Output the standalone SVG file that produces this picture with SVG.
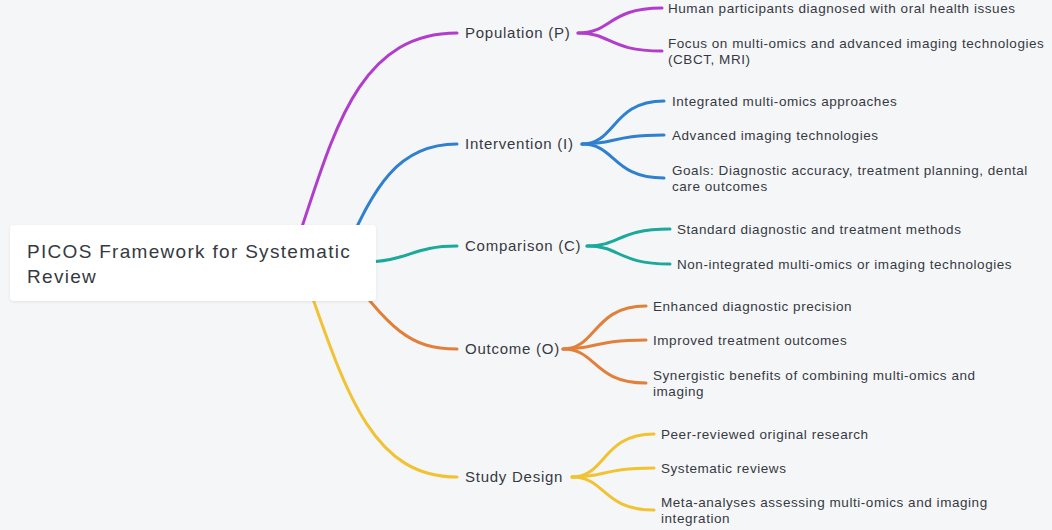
<svg xmlns="http://www.w3.org/2000/svg" width="1052" height="530" viewBox="0 0 1052 530">
<defs>
<style>
.bg{fill:#f5f6f8}
.c{fill:none;stroke-width:3;stroke-linecap:round}
.p{stroke:#b23ccb}.i{stroke:#2f80cf}.k{stroke:#1ba99b}.o{stroke:#e0803a}.s{stroke:#f1c232}
text{font-family:"Liberation Sans",Arial,sans-serif;fill:#353a42}
.root{font-size:19px;letter-spacing:1.3px}
.br{font-size:15px;letter-spacing:0.75px}
.lf{font-size:13.5px;letter-spacing:0.55px}
</style>
<filter id="sh" x="-5%" y="-20%" width="110%" height="140%"><feDropShadow dx="0" dy="1" stdDeviation="1.5" flood-color="#000" flood-opacity="0.08"/></filter>
</defs>
<rect class="bg" x="0" y="0" width="1052" height="530"/>
<g id="connectors">
<path class="c p" d="M290 262 C330 150 350 33 457 33"/>
<path class="c i" d="M340 262 C370 200 390 144 457 144"/>
<path class="c k" d="M360 262 C410 262 410 246 457 246"/>
<path class="c o" d="M340 262 C390 330 410 349 457 349"/>
<path class="c s" d="M300 262 C345 390 370 477 457 477"/>
<path class="c p" d="M578 33 C612 33 608 8 662 8"/>
<path class="c p" d="M578 33 C612 33 608 51 662 51"/>
<path class="c i" d="M582 144 C616 144 612 101 664 101"/>
<path class="c i" d="M582 144 C616 144 612 135 664 135"/>
<path class="c i" d="M582 144 C616 144 612 178 664 178"/>
<path class="c k" d="M587 246 C621 246 617 229 670 229"/>
<path class="c k" d="M587 246 C621 246 617 264 670 264"/>
<path class="c o" d="M563 349 C597 349 593 306 646 306"/>
<path class="c o" d="M563 349 C597 349 593 340 646 340"/>
<path class="c o" d="M563 349 C597 349 593 383 646 383"/>
<path class="c s" d="M572 477 C606 477 602 434 654 434"/>
<path class="c s" d="M572 477 C606 477 602 468 654 468"/>
<path class="c s" d="M572 477 C606 477 602 510 654 510"/>
</g>
<g id="root">
<rect x="10" y="225" width="366" height="76" rx="4" fill="#fff" filter="url(#sh)"/>
<text class="root" x="27" y="258">PICOS Framework for Systematic</text>
<text class="root" x="27" y="283">Review</text>
</g>
<g id="population"><text class="br" x="465" y="38">Population (P)</text></g>
<g id="intervention"><text class="br" x="465" y="149">Intervention (I)</text></g>
<g id="comparison"><text class="br" x="465" y="251">Comparison (C)</text></g>
<g id="outcome"><text class="br" x="465" y="354">Outcome (O)</text></g>
<g id="study"><text class="br" x="465" y="482">Study Design</text></g>
<g id="p1"><text class="lf" x="668" y="12.5">Human participants diagnosed with oral health issues</text></g>
<g id="p2"><text class="lf" x="668" y="47.5">Focus on multi-omics and advanced imaging technologies</text><text class="lf" x="668" y="64">(CBCT, MRI)</text></g>
<g id="i1"><text class="lf" x="672" y="105.5">Integrated multi-omics approaches</text></g>
<g id="i2"><text class="lf" x="672" y="139.5">Advanced imaging technologies</text></g>
<g id="i3"><text class="lf" x="672" y="174.5">Goals: Diagnostic accuracy, treatment planning, dental</text><text class="lf" x="672" y="191">care outcomes</text></g>
<g id="c1"><text class="lf" x="677" y="233.5">Standard diagnostic and treatment methods</text></g>
<g id="c2"><text class="lf" x="677" y="268.5">Non-integrated multi-omics or imaging technologies</text></g>
<g id="o1"><text class="lf" x="653" y="310.5">Enhanced diagnostic precision</text></g>
<g id="o2"><text class="lf" x="653" y="344.5">Improved treatment outcomes</text></g>
<g id="o3"><text class="lf" x="653" y="379.5">Synergistic benefits of combining multi-omics and</text><text class="lf" x="653" y="396">imaging</text></g>
<g id="s1"><text class="lf" x="661" y="438.5">Peer-reviewed original research</text></g>
<g id="s2"><text class="lf" x="661" y="472.5">Systematic reviews</text></g>
<g id="s3"><text class="lf" x="661" y="506.5">Meta-analyses assessing multi-omics and imaging</text><text class="lf" x="661" y="523">integration</text></g>
</svg>
